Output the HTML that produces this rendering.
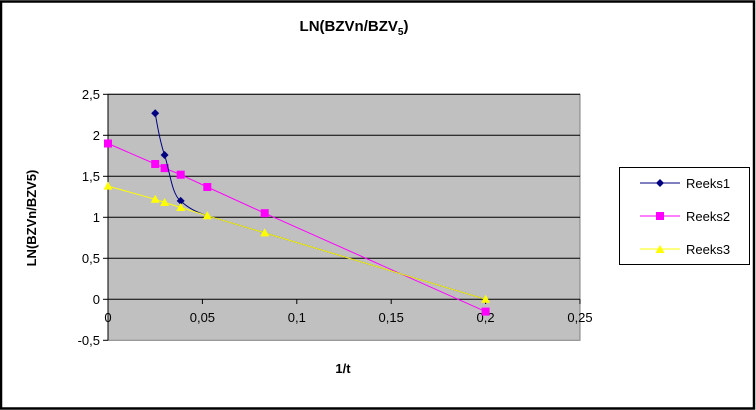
<!DOCTYPE html>
<html><head><style>
html,body{margin:0;padding:0;background:#fff;}
svg{display:block;font-family:"Liberation Sans",Arial,sans-serif;}
</style></head><body>
<svg width="756" height="410" viewBox="0 0 756 410" xmlns="http://www.w3.org/2000/svg">
<rect x="1" y="1.5" width="753" height="407" fill="#fff" stroke="#000" stroke-width="2.5"/>
<text x="354" y="31" text-anchor="middle" font-size="15" font-weight="bold">LN(BZVn/BZV<tspan font-size="10" dy="4">5</tspan><tspan dy="-4">)</tspan></text>
<rect x="108" y="94.3" width="472" height="246" fill="#c0c0c0" stroke="#808080" stroke-width="1"/>
<g stroke="#000" stroke-width="1">
<line x1="108" y1="94.3" x2="580" y2="94.3"/>
<line x1="108" y1="135.3" x2="580" y2="135.3"/>
<line x1="108" y1="176.3" x2="580" y2="176.3"/>
<line x1="108" y1="217.3" x2="580" y2="217.3"/>
<line x1="108" y1="258.3" x2="580" y2="258.3"/>
<line x1="108" y1="299.3" x2="580" y2="299.3"/>
<line x1="108" y1="94.3" x2="108" y2="340.3"/>
<line x1="103" y1="94.3" x2="108" y2="94.3"/><line x1="103" y1="135.3" x2="108" y2="135.3"/>
<line x1="103" y1="176.3" x2="108" y2="176.3"/><line x1="103" y1="217.3" x2="108" y2="217.3"/>
<line x1="103" y1="258.3" x2="108" y2="258.3"/><line x1="103" y1="299.3" x2="108" y2="299.3"/>
<line x1="103" y1="340.3" x2="108" y2="340.3"/>
<line x1="202.4" y1="299.3" x2="202.4" y2="304"/><line x1="296.8" y1="299.3" x2="296.8" y2="304"/>
<line x1="391.2" y1="299.3" x2="391.2" y2="304"/><line x1="485.6" y1="299.3" x2="485.6" y2="304"/>
<line x1="580" y1="299.3" x2="580" y2="304"/>
</g>
<g font-size="13" text-anchor="end">
<text x="100" y="99">2,5</text><text x="100" y="140">2</text><text x="100" y="181">1,5</text>
<text x="100" y="222">1</text><text x="100" y="263">0,5</text><text x="100" y="304">0</text>
<text x="100" y="345">-0,5</text>
</g>
<g font-size="13" text-anchor="middle">
<text x="108" y="322">0</text><text x="202.4" y="322">0,05</text><text x="296.8" y="322">0,1</text>
<text x="391.2" y="322">0,15</text><text x="485.6" y="322">0,2</text><text x="580" y="322">0,25</text>
</g>
<text x="343" y="373" text-anchor="middle" font-size="13" font-weight="bold">1/t</text>
<text transform="translate(36,218) rotate(-90)" text-anchor="middle" font-size="13" font-weight="bold">LN(BZVn/BZV5)</text>
<!-- Reeks2 -->
<polyline fill="none" stroke="#ff00ff" stroke-width="1" points="108,143.5 155.2,164 164.6,168.1 180.7,174.7 207.3,187 264.7,213.2 485.6,311.6"/>
<g fill="#ff00ff">
<rect x="104" y="139.5" width="8" height="8"/><rect x="151.2" y="160" width="8" height="8"/>
<rect x="160.6" y="164.1" width="8" height="8"/><rect x="176.7" y="170.7" width="8" height="8"/>
<rect x="203.3" y="183" width="8" height="8"/><rect x="260.7" y="209.2" width="8" height="8"/>
<rect x="481.6" y="307.6" width="8" height="8"/>
</g>
<!-- Reeks1 -->
<path fill="none" stroke="#000080" stroke-width="1" d="M155.2,113.2 C158,130 161,145 164.6,155 C170,172 172,195 180.7,200.9 C188,208 196,212 207.3,215.7 L264.7,232.9 L485.6,299.3"/>
<g fill="#000080">
<path d="M155.2,109.2 l4,4 l-4,4 l-4,-4z"/><path d="M164.6,151 l4,4 l-4,4 l-4,-4z"/>
<path d="M180.7,196.9 l4,4 l-4,4 l-4,-4z"/>
</g>
<!-- Reeks3 -->
<polyline fill="none" stroke="#ffff00" stroke-width="1" points="108,186.1 155.2,199.3 164.6,202.5 180.7,207.5 207.3,215.7 264.7,232.9 485.6,299.3"/>
<g fill="#ffff00">
<path d="M108,181.6 l4.5,8 h-9z"/><path d="M155.2,194.8 l4.5,8 h-9z"/><path d="M164.6,198 l4.5,8 h-9z"/>
<path d="M180.7,203 l4.5,8 h-9z"/><path d="M207.3,211.2 l4.5,8 h-9z"/><path d="M264.7,228.4 l4.5,8 h-9z"/>
<path d="M485.6,294.8 l4.5,8 h-9z"/>
</g>
<!-- Legend -->
<rect x="619.5" y="167.5" width="130" height="97" fill="#fff" stroke="#000" stroke-width="1"/>
<g font-size="13">
<line x1="640" y1="183" x2="680" y2="183" stroke="#000080"/><path d="M660,179 l4,4 l-4,4 l-4,-4z" fill="#000080"/>
<text x="686" y="188">Reeks1</text>
<line x1="640" y1="216" x2="680" y2="216" stroke="#ff00ff"/><rect x="656" y="212" width="8" height="8" fill="#ff00ff"/>
<text x="686" y="221">Reeks2</text>
<line x1="640" y1="249" x2="680" y2="249" stroke="#ffff00"/><path d="M660,245 l4.5,8 h-9z" fill="#ffff00"/>
<text x="686" y="254">Reeks3</text>
</g>
</svg>
</body></html>
